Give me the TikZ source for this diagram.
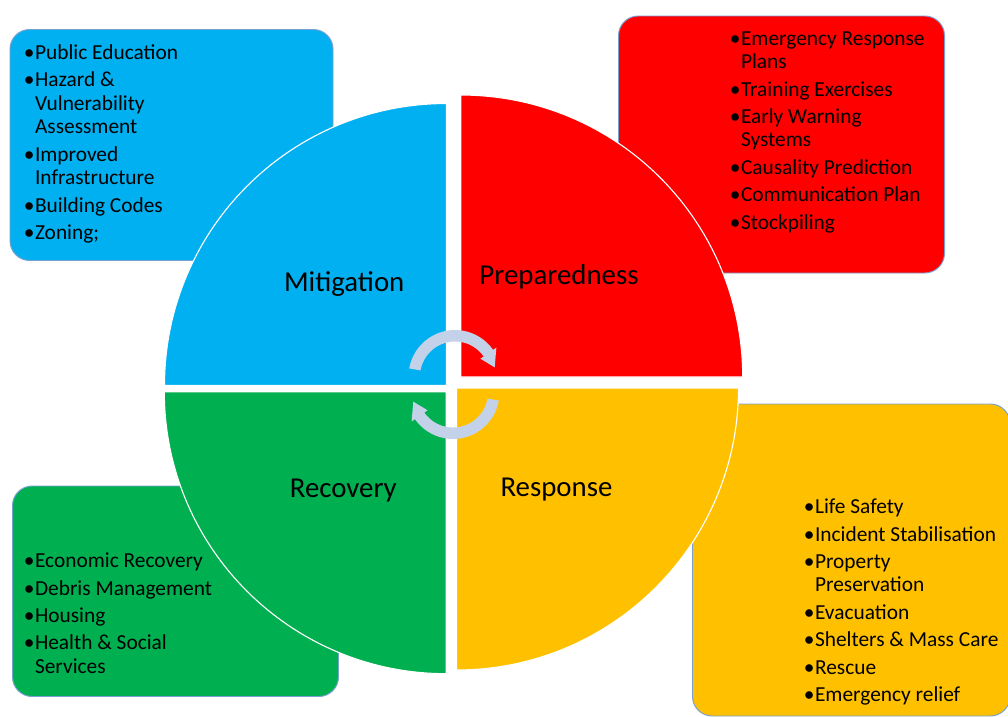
\documentclass[tikz,border=0pt]{standalone}
\usepackage{fontspec}
\setmainfont{Carlito}
\definecolor{mitblue}{RGB}{0,176,240}
\definecolor{prepred}{RGB}{255,0,0}
\definecolor{recgreen}{RGB}{0,176,80}
\definecolor{respyellow}{RGB}{255,192,0}
\definecolor{boxedge}{RGB}{120,160,210}
\definecolor{cyclearrow}{RGB}{195,210,232}
\newcommand{\bl}{\makebox[8pt][l]{\textbullet}}
\newcommand{\bi}{\hspace*{8pt}}
\tikzset{
  listbox/.style={draw=boxedge, line width=0.7pt, rounded corners=14pt},
  quarter/.style={draw=white, line width=0.8pt},
  phase/.style={anchor=base, inner sep=0pt, font=\fontsize{20.5}{24}\selectfont},
  items/.style={anchor=base west, inner sep=0pt, font=\fontsize{15.2}{16.65}\selectfont}
}

\begin{document}
\begin{tikzpicture}[x=0.025cm, y=-0.025cm]
\useasboundingbox (0,0) rectangle (1008,717);
\clip (0,0) rectangle (1008,717);
\fill[white] (0,0) rectangle (1008,717);

% list boxes behind the wheel
\filldraw[listbox, fill=mitblue] (10,29.5) rectangle (333,260.5);
\filldraw[listbox, fill=prepred] (618.5,16) rectangle (944.5,273);
\filldraw[listbox, fill=recgreen] (12.5,486) rectangle (338.5,696.5);
\filldraw[listbox, fill=respyellow] (692.5,404) rectangle (1010,716);

% the four quarters
\filldraw[quarter, fill=mitblue] (446.5,385.5) -- ++(180:282) arc[start angle=180, end angle=270, radius=282] -- cycle;
\filldraw[quarter, fill=prepred] (460.7,377) -- ++(270:282) arc[start angle=270, end angle=360, radius=282] -- cycle;
\filldraw[quarter, fill=respyellow] (456.5,388) -- ++(0:282) arc[start angle=0, end angle=90, radius=282] -- cycle;
\filldraw[quarter, fill=recgreen] (446.3,391.7) -- ++(90:282) arc[start angle=90, end angle=180, radius=282] -- cycle;

% cycle arrows in the middle
\begin{scope}[shift={(455,376.5)}]
\fill[cyclearrow] (190:46.5) arc[start angle=190, end angle=325, radius=46.5] -- (325:50.5) -- (347:40.75) -- (325:31) -- (325:35) arc[start angle=325, end angle=190, radius=35] -- cycle;
\end{scope}
\begin{scope}[shift={(453,392.5)}]
\fill[cyclearrow] (10:46.5) arc[start angle=10, end angle=145, radius=46.5] -- (145:50.5) -- (167:40.75) -- (145:31) -- (145:35) arc[start angle=145, end angle=10, radius=35] -- cycle;
\end{scope}

% phase names
\node[phase] (mitigation) at (344.2,291.7) {Mitigation};
\node[phase] (preparedness) at (559,284) {Preparedness};
\node[phase] (recovery) at (343.3,497.3) {Recovery};
\node[phase] (response) at (556.5,496) {Response};

% lists
\node[items] (mitlist) at (23.5,59.5) {\begin{tabular}[t]{@{}l@{}}
  \bl Public Education\\[2.85pt]
  \bl Hazard \&\\ \bi Vulnerability\\ \bi Assessment\\[2.85pt]
  \bl Improved\\ \bi Infrastructure\\[2.85pt]
  \bl Building Codes\\[2.85pt]
  \bl Zoning;
\end{tabular}};
\node[items] (preplist) at (729.5,45.3) {\begin{tabular}[t]{@{}l@{}}
  \bl Emergency Response\\ \bi Plans\\[2.85pt]
  \bl Training Exercises\\[2.85pt]
  \bl Early Warning\\ \bi Systems\\[2.85pt]
  \bl Causality Prediction\\[2.85pt]
  \bl Communication Plan\\[2.85pt]
  \bl Stockpiling
\end{tabular}};
\node[items] (reclist) at (23.5,567.7) {\begin{tabular}[t]{@{}l@{}}
  \bl Economic Recovery\\[2.85pt]
  \bl Debris Management\\[2.85pt]
  \bl Housing\\[2.85pt]
  \bl Health \& Social\\ \bi Services
\end{tabular}};
\node[items] (resplist) at (803.5,513.7) {\begin{tabular}[t]{@{}l@{}}
  \bl Life Safety\\[2.85pt]
  \bl Incident Stabilisation\\[2.85pt]
  \bl Property\\ \bi Preservation\\[2.85pt]
  \bl Evacuation\\[2.85pt]
  \bl Shelters \& Mass Care\\[2.85pt]
  \bl Rescue\\[2.85pt]
  \bl Emergency relief
\end{tabular}};
\end{tikzpicture}
\end{document}
